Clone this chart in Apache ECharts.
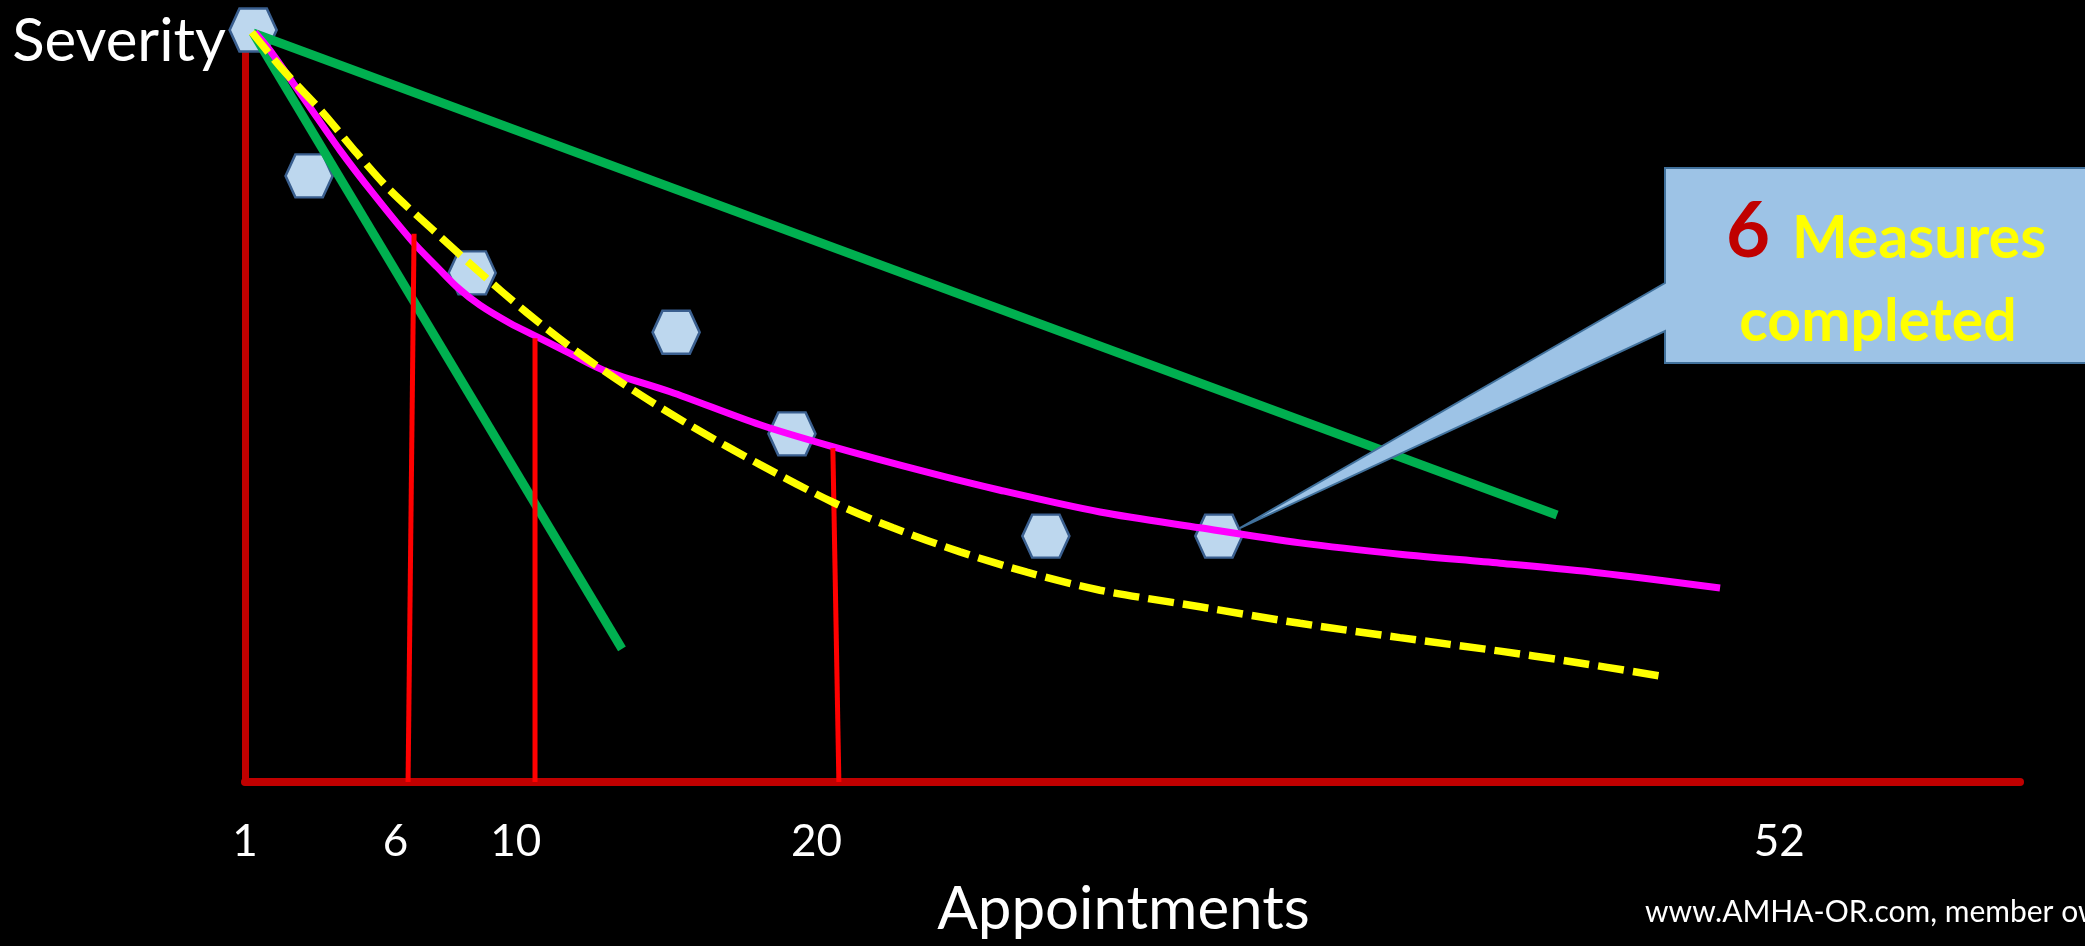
<!DOCTYPE html>
<html>
<head>
<meta charset="utf-8">
<title>Severity vs Appointments</title>
<script src="https://cdn.jsdelivr.net/npm/echarts@6/dist/echarts.min.js"></script>
<style>
  html, body { margin: 0; padding: 0; background: #000; }
  #main { width: 2085px; height: 946px; }
</style>
</head>
<body>
<div id="main"></div>
<script>
// Appointment numbers labelled along the bottom axis
const tickValues = [1, 6, 10, 20, 52];

// Completed measures: [appointment, severity]
const measures = [
  [1.27, 100], [3.13, 80.6], [8.55, 67.7], [15.33, 59.8],
  [19.18, 46.3], [27.62, 32.7], [33.37, 32.7]
];

// Straight-line trends (fast and slow improvement)
const fastTrend = [[1.27, 99.6], [13.53, 17.7]];
const slowTrend = [[1.27, 99.6], [44.61, 35.5]];

// Observed course (magenta)
const actualCourse = [
  [1.33, 99.7], [1.83, 97.3], [3.06, 90.3], [4.16, 84.0], [5.25, 78.3],
  [6.58, 71.8], [7.38, 68.5], [8.05, 65.8], [8.81, 63.4], [9.81, 61.0],
  [10.71, 59.2], [11.80, 57.0], [12.90, 54.8], [15.13, 51.9], [18.12, 47.5],
  [20.35, 44.8], [23.67, 41.2], [26.10, 38.8], [29.42, 35.9], [32.74, 33.8],
  [36.07, 31.8], [39.39, 30.3], [42.72, 29.1], [46.04, 27.8], [50.03, 25.8]
];

// Expected course (yellow dashed)
const expectedCourse = [
  [1.23, 99.7], [2.26, 94.7], [3.59, 89.0], [4.72, 83.6], [5.82, 78.7],
  [7.25, 73.4], [8.71, 68.1], [10.37, 62.4], [12.04, 57.2], [13.90, 52.1],
  [15.89, 47.2], [18.12, 42.2], [20.54, 37.2], [22.54, 33.8], [24.77, 30.6],
  [26.99, 27.9], [29.42, 25.5], [32.74, 23.3], [36.07, 21.1], [39.39, 19.2],
  [42.72, 17.4], [44.94, 16.1], [48.03, 14.1]
];

// Drop lines from the observed course down to appointments 6, 10 and 20
const dropAt6 = [[6.42, 0], [6.62, 72.9]];
const dropAt10 = [[10.64, 0], [10.64, 59.0]];
const dropAt20 = [[20.74, 0], [20.54, 44.4]];

const FONT = 'Lato, "Open Sans", sans-serif';
const HEXAGON = 'path://M21,0L79,0L100,50L79,100L21,100L0,50Z';

function plainLine(name, data, color, width, extra) {
  return Object.assign({
    name: name,
    type: 'line',
    data: data,
    symbol: 'none',
    silent: true,
    lineStyle: { color: color, width: width, cap: 'butt' }
  }, extra || {});
}

const option = {
  backgroundColor: '#000000',
  animation: false,
  grid: {
    left: 245, right: 65, top: 30, bottom: 164,
    containLabel: false,
    outerBoundsMode: 'none'
  },
  xAxis: {
    type: 'value',
    min: 1,
    max: 60,
    name: 'Appointments',
    nameLocation: 'middle',
    nameGap: 98,
    nameTextStyle: {
      color: '#ffffff', fontSize: 60, fontFamily: FONT, padding: [0, 18, 0, 0]
    },
    axisLine: { show: true, onZero: false, lineStyle: { color: '#C00000', width: 8 } },
    axisTick: { show: false },
    splitLine: { show: false },
    axisLabel: {
      customValues: tickValues,
      color: '#ffffff',
      fontSize: 44,
      fontFamily: FONT,
      margin: 38
    }
  },
  yAxis: {
    type: 'value',
    min: 0,
    max: 100,
    name: 'Severity',
    nameLocation: 'end',
    nameGap: -12,
    nameTextStyle: {
      color: '#ffffff', fontSize: 60, fontFamily: FONT,
      align: 'right', verticalAlign: 'middle', padding: [0, 19, 0, 0]
    },
    axisLine: { show: true, onZero: false, lineStyle: { color: '#C00000', width: 7 } },
    axisTick: { show: false },
    axisLabel: { show: false },
    splitLine: { show: false }
  },
  series: [
    plainLine('Fast improvement', fastTrend, '#00B050', 9),
    plainLine('Slow improvement', slowTrend, '#00B050', 9),
    plainLine('Observed course', actualCourse, '#FF00FF', 7, { smooth: 0.3 }),
    plainLine('Drop 6', dropAt6, '#FF0000', 5),
    plainLine('Drop 10', dropAt10, '#FF0000', 5),
    plainLine('Drop 20', dropAt20, '#FF0000', 5),
    {
      id: 'measures',
      name: 'Measures',
      type: 'scatter',
      data: measures,
      symbol: HEXAGON,
      symbolSize: [47, 43],
      silent: true,
      itemStyle: { color: '#BDD7EE', borderColor: '#3A5F8F', borderWidth: 2.5, opacity: 1 }
    },
    plainLine('Expected course', expectedCourse, '#FFFF00', 7.5, {
      smooth: 0.3,
      lineStyle: { color: '#FFFF00', width: 7.5, type: [26, 9], cap: 'butt' }
    })
  ]
};

const chart = echarts.init(document.getElementById('main'), null, { renderer: 'canvas' });
chart.setOption(option);

// Callout pointing at the last completed measure
const last = chart.convertToPixel({ seriesId: 'measures' }, measures[measures.length - 1]);
const tip = [last[0] + 21, last[1] - 8];

chart.setOption({
  graphic: [
    {
      type: 'polygon',
      z: 100,
      silent: true,
      shape: {
        points: [
          [1665, 168], [2100, 168], [2100, 363], [1665, 363],
          [1665, 331], tip, [1665, 283]
        ]
      },
      style: { fill: '#9DC3E6', stroke: '#41719C', lineWidth: 2 }
    },
    {
      type: 'text', z: 101, silent: true,
      style: {
        text: '6', x: 1748, y: 232, align: 'center', verticalAlign: 'middle',
        fill: '#C00000', fontSize: 76, fontWeight: 'bold', fontFamily: FONT
      }
    },
    {
      type: 'text', z: 101, silent: true,
      style: {
        text: 'Measures', x: 1792, y: 239, align: 'left', verticalAlign: 'middle',
        fill: '#FFFF00', fontSize: 59, fontWeight: 'bold', fontFamily: FONT
      }
    },
    {
      type: 'text', z: 101, silent: true,
      style: {
        text: 'completed', x: 1878, y: 322, align: 'center', verticalAlign: 'middle',
        fill: '#FFFF00', fontSize: 59, fontWeight: 'bold', fontFamily: FONT
      }
    },
    {
      type: 'text', z: 101, silent: true,
      style: {
        text: 'www.AMHA-OR.com, member ow', x: 1645, y: 912, align: 'left', verticalAlign: 'middle',
        fill: '#ffffff', fontSize: 30, fontFamily: FONT
      }
    }
  ]
});
</script>
</body>
</html>
